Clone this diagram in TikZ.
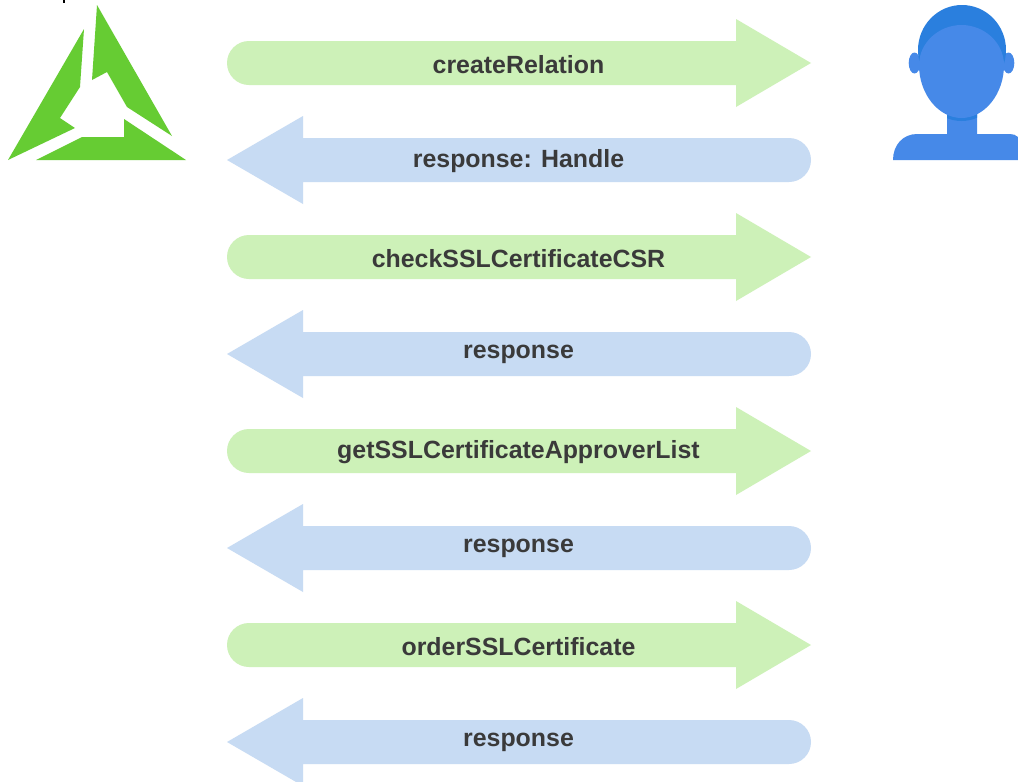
\documentclass[tikz,border=0pt]{standalone}
\usepackage{fontspec}
\setmainfont{Liberation Sans}
\definecolor{greenfill}{HTML}{CDF1B8}
\definecolor{bluefill}{HTML}{C7DBF3}
\definecolor{logogreen}{HTML}{66CC33}
\definecolor{facecol}{HTML}{4689E8}
\definecolor{haircol}{HTML}{2A7FDE}
\definecolor{labelcol}{HTML}{3A3A3A}
\tikzset{
  msglabel/.style={anchor=base,inner sep=0pt,text=labelcol,font=\fontsize{24.9}{27}\selectfont\bfseries},
  logopart/.style={fill=logogreen,draw=none},
  facepart/.style={fill=facecol,draw=none},
  hairpart/.style={fill=haircol,draw=none}
}
\newcommand{\sendarrow}[4]{% name, center y, baseline y, text
  \fill[greenfill] (249,#2-22) -- (736,#2-22) -- (736,#2-44) -- (811,#2) -- (736,#2+44) -- (736,#2+22) -- (249,#2+22)
    arc[start angle=-90,end angle=-270,x radius=22,y radius=-22] -- cycle;
  \node[msglabel] (#1) at (518.5,#3) {#4};
}
\newcommand{\backarrow}[4]{%
  \fill[bluefill] (789,#2-22) -- (303,#2-22) -- (303,#2-44) -- (227,#2) -- (303,#2+44) -- (303,#2+22) -- (789,#2+22)
    arc[start angle=-90,end angle=90,x radius=22,y radius=-22] -- cycle;
  \node[msglabel] (#1) at (518.5,#3) {#4};
}
\begin{document}
\begin{tikzpicture}[x=1pt,y=-1pt]
\useasboundingbox (0,0) rectangle (1018,782);
\fill[white] (0,0) rectangle (1018,782);
% clipped mark at the top edge
\fill[black] (62.5,0) rectangle (65,3);
% logo
\fill[logopart] (97,5) -- (172,136) -- (127,107) -- (107,72) -- (92,80) -- cycle;
\fill[logopart] (84,29) -- (80,87) -- (60,118) -- (75,128) -- (8,160) -- cycle;
\fill[logopart] (36,160) -- (82,137) -- (124,137) -- (124,119) -- (186,160) -- cycle;
% person
\fill[facepart] (893,160) .. controls (893,145) and (903,134) .. (917,134) -- (947,134) -- (947,105) -- (977,105) -- (977,134) -- (1010,134) .. controls (1013,134) and (1016,135) .. (1018,137) -- (1018,160) -- cycle;
\begin{scope}
  \clip (947,100) rectangle (977,134);
  \fill[hairpart] (961.5,74) ellipse[x radius=42.5,y radius=47];
\end{scope}
\fill[facepart] (914.5,63) ellipse[x radius=5.8,y radius=10.5];
\fill[facepart] (1008.5,63) ellipse[x radius=5.8,y radius=10.5];
\fill[hairpart] (962,50) ellipse[x radius=44,y radius=45];
\fill[facepart] (961.5,25) .. controls (984.5,25) and (1004,43) .. (1004,65)
  .. controls (1004,94) and (984.5,118) .. (961.5,118)
  .. controls (938.5,118) and (919,94) .. (919,65)
  .. controls (919,43) and (938.5,25) .. (961.5,25) -- cycle;
% messages
\sendarrow{m1}{63}{73}{createRelation}
\backarrow{m2}{160}{167}{response: Handle}
\sendarrow{m3}{257}{267}{checkSSLCertificateCSR}
\backarrow{m4}{354}{358}{response}
\sendarrow{m5}{451}{458}{getSSLCertificateApproverList}
\backarrow{m6}{548}{552}{response}
\sendarrow{m7}{645}{655}{orderSSLCertificate}
\backarrow{m8}{742}{746}{response}
\end{tikzpicture}
\end{document}
